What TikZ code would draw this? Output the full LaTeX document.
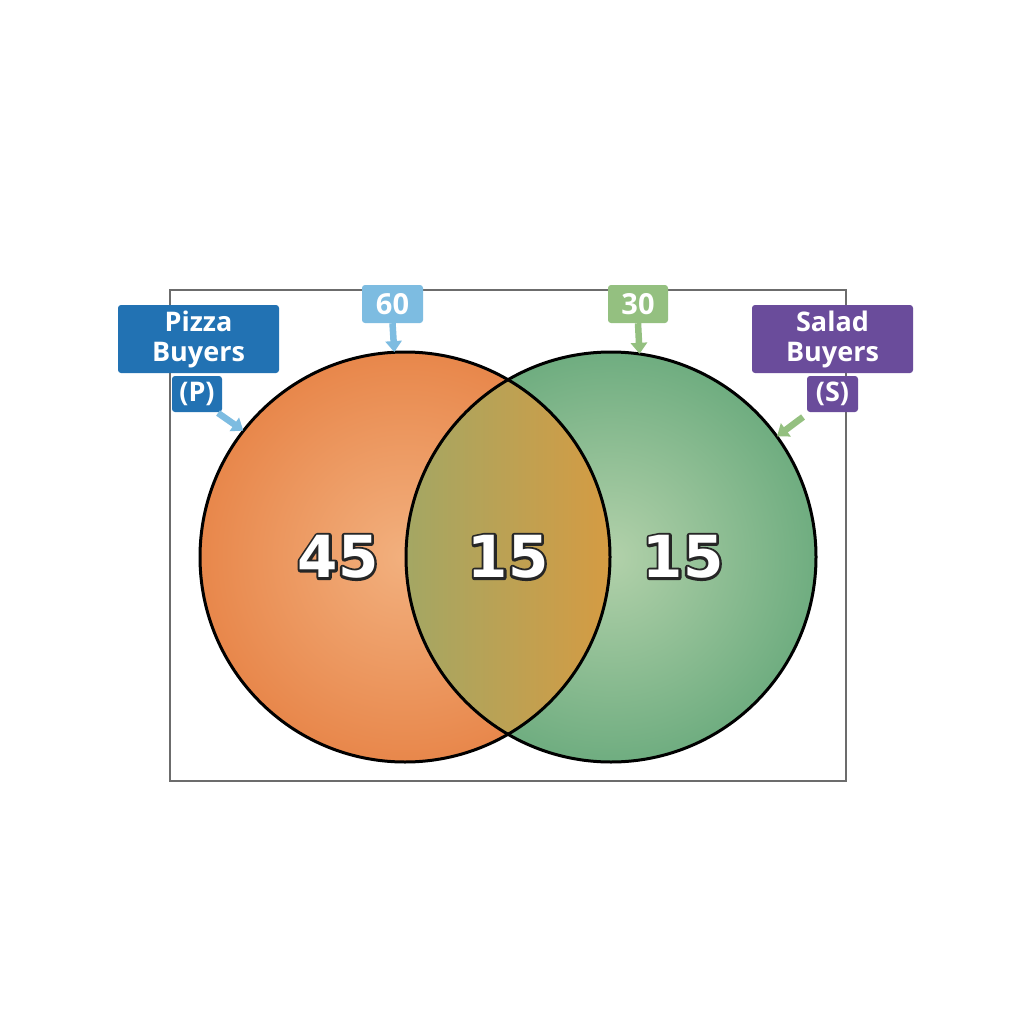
\documentclass[tikz,border=0pt]{standalone}
\usepackage{fontspec}
\setmainfont{Open Sans}
\newfontfamily\numfont{DejaVu Sans}
\usetikzlibrary{arrows.meta}
\definecolor{pizzablue}{HTML}{2272B3}
\definecolor{lightblue}{HTML}{7DBCE1}
\definecolor{saladpurple}{HTML}{6A4C9B}
\definecolor{lightgreen}{HTML}{94C080}
\definecolor{orin}{HTML}{F2B07E}
\definecolor{orout}{HTML}{E8874B}
\definecolor{grin}{HTML}{B2D1AA}
\definecolor{grout}{HTML}{6FAD80}
\definecolor{ovleft}{HTML}{A3A764}
\definecolor{ovmid}{HTML}{BDAF6C}
\definecolor{ovright}{HTML}{D69B42}
\definecolor{numline}{HTML}{262626}
\tikzset{
  lbox/.style={rounded corners=3pt, text=white, font=\bfseries\fontsize{27}{30}\selectfont, align=center, inner sep=0pt},
  pointer/.style={line width=6.5pt, -{Triangle[width=16pt,length=11pt]}},
  num/.style={text=white, font=\numfont\bfseries\fontsize{58}{62}\selectfont, inner sep=0pt},
  numback/.style={num, text=numline},
  venn/.style={circle, minimum size=410pt, inner sep=0pt},
}
\newcommand{\strokenum}[1]{\special{pdf:literal 0.15 0.15 0.15 RG 5 w 1 j 2 Tr}#1\special{pdf:literal 0 Tr}}
\begin{document}
\begin{tikzpicture}[x=1pt,y=-1pt]
\useasboundingbox[fill=white] (0,0) rectangle (1024,1024);
\node[draw=gray!85!black, line width=1.2pt, minimum width=676pt, minimum height=491pt, inner sep=0pt] (frame) at (508,535.5) {};
\node[venn] (P) at (405,557) {};
\node[venn] (S) at (611,557) {};
\shade[inner color=orin, outer color=orout] (P.center) circle[radius=205];
\shade[inner color=grin, outer color=grout] (S.center) circle[radius=205];
\begin{scope}
  \clip (P.center) circle[radius=205];
  \clip (S.center) circle[radius=205];
  \shade[left color=ovleft, middle color=ovmid, right color=ovright] (403,350) rectangle (615,764);
\end{scope}
\draw[line width=3pt] (P.center) circle[radius=205];
\draw[line width=3pt] (S.center) circle[radius=205];
% labels
\node[lbox, fill=pizzablue, minimum width=161pt, minimum height=68pt] (pz) at (198.5,339) {Pizza\\Buyers};
\node[lbox, fill=pizzablue, minimum width=50pt, minimum height=36pt] (pp) at (197,394) {(P)};
\node[lbox, fill=saladpurple, minimum width=161pt, minimum height=68pt] (sl) at (832.5,339) {Salad\\Buyers};
\node[lbox, fill=saladpurple, minimum width=51pt, minimum height=36pt] (ss) at (832.5,394) {(S)};
\node[lbox, fill=lightblue, minimum width=61pt, minimum height=38pt, font=\bfseries\fontsize{29}{30}\selectfont] (n60) at (392.5,304) {60};
\node[lbox, fill=lightgreen, minimum width=60pt, minimum height=38pt, font=\bfseries\fontsize{29}{30}\selectfont] (n30) at (638,304) {30};
% pointers
\draw[pointer, lightblue] (n60.south) -- (P.93.6);
\draw[pointer, lightgreen] (n30.south) -- (S.82.4);
\coordinate (pa) at (218,413);
\coordinate (sa) at (803,417);
\draw[pointer, lightblue] (pa) -- (P.142);
\draw[pointer, lightgreen] (sa) -- (S.36);
% numbers: dark stroked layer, then white face
\node[numback] (ab) at (338,557) {\strokenum{45}};
\node[numback] (bb) at (508,557) {\strokenum{15}};
\node[numback] (cb) at (683,557) {\strokenum{15}};
\node[num] (a) at (ab.center) {45};
\node[num] (b) at (bb.center) {15};
\node[num] (c) at (cb.center) {15};
\end{tikzpicture}
\end{document}
